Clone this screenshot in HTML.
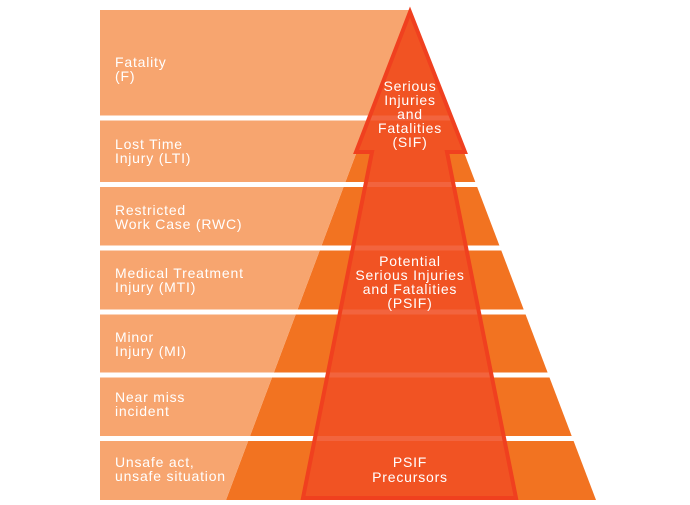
<!DOCTYPE html>
<html><head><style>
body{margin:0;background:#fff}
svg{display:block}
text{font-family:"Liberation Sans",sans-serif;font-size:14px;letter-spacing:0.8px;fill:#fff}
</style></head><body>
<svg width="690" height="505" viewBox="0 0 690 505">
<polygon points="410,10 596,500 226,500" fill="#F27321"/>
<polygon points="100,10 410,10 226,500 100,500" fill="#F7A56F"/>
<g fill="#fff">
<rect x="95" y="115.5" width="520" height="5"/>
<rect x="95" y="182" width="520" height="5"/>
<rect x="95" y="245.5" width="520" height="5"/>
<rect x="95" y="309.5" width="520" height="5"/>
<rect x="95" y="372.5" width="520" height="5"/>
<rect x="95" y="436" width="520" height="5"/>
<rect x="95" y="500" width="520" height="5"/>
</g>
<polygon points="410,12 465,152 447,152 516,498 303,498 372,152 356,152" fill="#F04E23" fill-opacity="0.88" stroke="#F0401F" stroke-width="4" stroke-linejoin="miter"/>
<text x="115" y="67">Fatality</text><text x="115" y="81">(F)</text>
<text x="115" y="149">Lost Time</text><text x="115" y="163">Injury (LTI)</text>
<text x="115" y="215">Restricted</text><text x="115" y="229">Work Case (RWC)</text>
<text x="115" y="278">Medical Treatment</text><text x="115" y="292">Injury (MTI)</text>
<text x="115" y="342">Minor</text><text x="115" y="356">Injury (MI)</text>
<text x="115" y="402">Near miss</text><text x="115" y="416">incident</text>
<text x="115" y="467">Unsafe act,</text><text x="115" y="481">unsafe situation</text>
<g text-anchor="middle">
<text x="410" y="91">Serious</text><text x="410" y="105">Injuries</text><text x="410" y="119">and</text><text x="410" y="133">Fatalities</text><text x="410" y="147">(SIF)</text>
<text x="410" y="266">Potential</text><text x="410" y="280">Serious Injuries</text><text x="410" y="294">and Fatalities</text><text x="410" y="308">(PSIF)</text>
<text x="410" y="467">PSIF</text><text x="410" y="482">Precursors</text>
</g>
</svg>
</body></html>
